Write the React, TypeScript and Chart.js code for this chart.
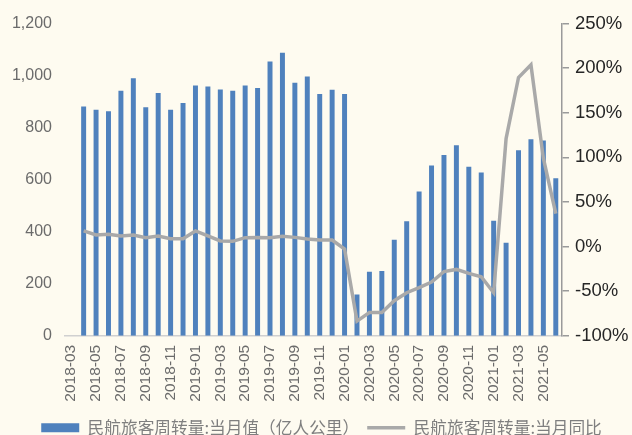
import React, { useEffect, useRef } from "react";
import { Chart, registerables } from "chart.js";

Chart.register(...registerables);

const categories = [
  "2018-03", "2018-04", "2018-05", "2018-06", "2018-07", "2018-08", "2018-09", "2018-10", "2018-11", "2018-12",
  "2019-01", "2019-02", "2019-03", "2019-04", "2019-05", "2019-06", "2019-07", "2019-08", "2019-09", "2019-10",
  "2019-11", "2019-12", "2020-01", "2020-02", "2020-03", "2020-04", "2020-05", "2020-06", "2020-07", "2020-08",
  "2020-09", "2020-10", "2020-11", "2020-12", "2021-01", "2021-02", "2021-03", "2021-04", "2021-05", "2021-06",
];

// 民航旅客周转量:当月值（亿人公里）
const monthlyValue = [
  null, 881, 869, 863, 942, 990, 878, 933, 869, 895,
  962, 958, 946, 942, 962, 952, 1054, 1088, 972, 996,
  929, 945, 929, 159, 246, 249, 369, 440, 554, 654,
  695, 732, 650, 627, 442, 358, 713, 755, 750, 605,
];

// 民航旅客周转量:当月同比 (%)
const yoyValue = [
  null, 17.5, 13, 13.7, 11.9, 13, 10, 11.9, 8.9, 8.9,
  17.5, 11.9, 6.3, 5.9, 10, 10.3, 10, 11.5, 10.3, 8.5,
  7.4, 7.4, -2.7, -83.5, -74, -74, -60.7, -51.7, -46, -39.7,
  -28, -25.6, -30, -33.8, -51.7, 121, 189.5, 203.7, 99, 37,
];

const leftTicks = { min: 0, max: 1200, step: 200 };
const rightTicks = { min: -100, max: 250, step: 50 };

const seriesNames = ["民航旅客周转量:当月值（亿人公里）", "民航旅客周转量:当月同比"];

const BG = "#FEFBF0";
const BLUE = "#4F81BD";
const GREY_LINE = "#A9A9A9";

export default function App() {
  const ref = useRef<HTMLCanvasElement | null>(null);

  useEffect(() => {
    document.body.style.margin = "0";
    document.body.style.background = BG;
    const canvas = ref.current!;
    const bgPlugin = {
      id: "bg",
      beforeDraw(chart: any) {
        const c = chart.ctx;
        c.save();
        c.fillStyle = BG;
        c.fillRect(0, 0, chart.width, chart.height);
        c.restore();
      },
    };
    const chart = new Chart(canvas, {
      data: {
        labels: categories,
        datasets: [
          {
            type: "line",
            label: seriesNames[1],
            data: yoyValue,
            yAxisID: "y1",
            borderColor: GREY_LINE,
            backgroundColor: GREY_LINE,
            borderWidth: 3.5,
            pointRadius: 0,
            tension: 0,
            order: 0,
          } as any,
          {
            type: "bar",
            label: seriesNames[0],
            data: monthlyValue,
            yAxisID: "y",
            backgroundColor: BLUE,
            borderWidth: 0,
            barPercentage: 0.4,
            categoryPercentage: 1,
            order: 1,
          } as any,
        ],
      },
      options: {
        responsive: false,
        animation: false,
        devicePixelRatio: 1,
        layout: { padding: { top: 23.5, left: 11, right: 0, bottom: -11 } },
        plugins: {
          tooltip: { enabled: false },
          legend: {
            position: "bottom",
            labels: {
              usePointStyle: true,
              pointStyleWidth: 38,
              boxHeight: 9,
              padding: 8,
              color: "#7F7F7F",
              font: { family: "'Noto Sans CJK SC'", size: 16.7 },
              generateLabels: () => [
                {
                  text: seriesNames[0],
                  fillStyle: BLUE,
                  strokeStyle: BLUE,
                  lineWidth: 0,
                  pointStyle: "rect",
                  hidden: false,
                  datasetIndex: 1,
                  fontColor: "#7F7F7F",
                },
                {
                  text: seriesNames[1],
                  fillStyle: GREY_LINE,
                  strokeStyle: GREY_LINE,
                  lineWidth: 3.5,
                  pointStyle: "line",
                  hidden: false,
                  datasetIndex: 0,
                  fontColor: "#7F7F7F",
                },
              ],
            },
          },
        },
        scales: {
          x: {
            grid: { display: false, drawTicks: false },
            border: { display: true, color: "#D0D0D0", width: 1.5 },
            afterFit(scale: any) {
              scale.height = 75.5;
            },
            ticks: {
              autoSkip: false,
              maxRotation: 90,
              minRotation: 90,
              padding: 9,
              color: "#6B6B6B",
              font: { family: "'Liberation Sans'", size: 15.5 },
              callback: (_v: any, i: number) => (i % 2 === 0 ? categories[i] : ""),
            },
          },
          y: {
            position: "left",
            min: leftTicks.min,
            max: leftTicks.max,
            grid: { display: false, drawTicks: false },
            border: { display: false },
            afterFit(scale: any) {
              scale.width = 54;
            },
            ticks: {
              stepSize: leftTicks.step,
              padding: 13,
              color: "#6B6B6B",
              font: { family: "'Liberation Sans'", size: 16 },
              callback: (v: any) => Number(v).toLocaleString("en-US"),
            },
          },
          y1: {
            position: "right",
            min: rightTicks.min,
            max: rightTicks.max,
            grid: { display: true, drawOnChartArea: false, drawTicks: true, tickLength: 7, color: "#9A9A9A", lineWidth: 1.5 },
            border: { display: true, color: "#9A9A9A", width: 1.5 },
            afterFit(scale: any) {
              scale.width = 70;
            },
            ticks: {
              stepSize: rightTicks.step,
              padding: 6,
              color: "#262626",
              font: { family: "'Liberation Sans'", size: 18.5 },
              callback: (v: any) => `${v}%`,
            },
          },
        },
      } as any,
      plugins: [bgPlugin],
    });
    return () => chart.destroy();
  }, []);

  return (
    <div style={{ position: "fixed", left: 0, top: 0, width: 632, height: 435, background: BG }}>
      <canvas ref={ref} width={632} height={435} style={{ display: "block" }} />
    </div>
  );
}
